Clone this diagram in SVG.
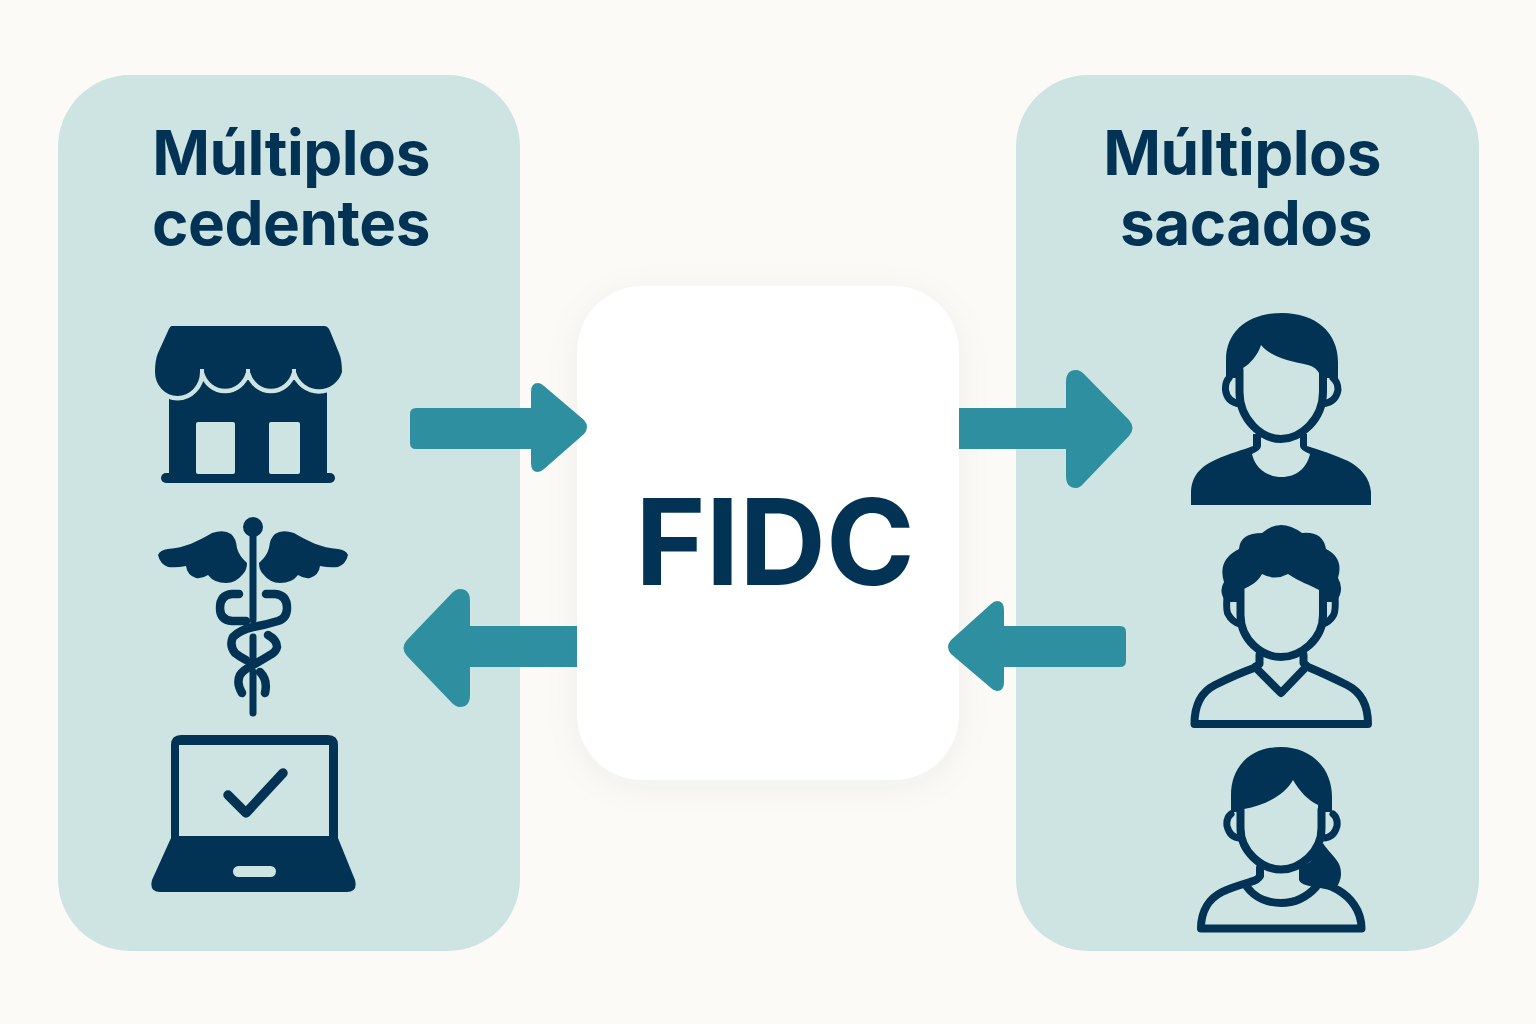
<svg xmlns="http://www.w3.org/2000/svg" width="1536" height="1024" viewBox="0 0 1536 1024">
<defs>
<filter id="sh" x="-20%" y="-20%" width="140%" height="140%"><feDropShadow dx="0" dy="6" stdDeviation="16" flood-color="#30404a" flood-opacity="0.05"/></filter>
<path id="wing" d="M158 555Q160 550 168 549C185 548 198 541 212 533Q224 529 231 534Q236 538 237 548Q239 556 247 563Q247 570 243 574Q236 583 226 583Q214 583 208 575Q202 579 196 578Q187 575 186 566Q176 568 168 567Q160 564 158 555Z"/>
</defs>
<style>
.panel{fill:#cde4e2}
.ink{fill:#023354}
.ln{fill:none;stroke:#023354;stroke-width:8;stroke-linecap:round;stroke-linejoin:round}
.ear{stroke-width:7}
.t{font-family:"Inter","Liberation Sans",sans-serif;font-weight:700;font-size:62px;letter-spacing:-0.5px;fill:#023354;text-anchor:middle}
.arr{fill:#2e8fa0}
</style>
<rect width="1536" height="1024" fill="#fbfaf6"/>
<g id="cedentes">
<rect class="panel" x="58" y="75" width="462" height="876" rx="72"/>
<text class="t" x="291" y="175">Múltiplos</text>
<text class="t" x="291" y="245">cedentes</text>
<g id="loja">
<rect class="ink" x="169" y="380" width="158" height="95"/>
<rect class="ink" x="161" y="473" width="174" height="10" rx="5"/>
<rect class="panel" x="196" y="422" width="39" height="52" rx="2"/>
<rect class="panel" x="269" y="422" width="31" height="52" rx="2"/>
<path id="awn" class="ink" stroke="#cde4e2" stroke-width="9" paint-order="stroke" d="M172 326H324Q328 326 330 331L339 353Q342 360 342 372A24 24 0 0 1 296 372V369H292V372A22 24 0 0 1 250 372V369H246V372A22 24 0 0 1 204 372V369H200V372A22.500 24 0 0 1 155 372Q155 360 158 353L168 331Q170 326 172 326Z"/>
</g>
<g id="caduceu">
<circle class="ink" cx="253" cy="527" r="10"/>
<path d="M253 530V620M253 637V662M253 672V713" class="ln" style="stroke-width:7"/>
<use href="#wing" class="ink"/>
<use href="#wing" class="ink" transform="translate(506 0) scale(-1 1)"/>
<path class="ln" style="stroke-width:8.500" d="M239 594H232Q220 595 220 608Q220 620 232 621H246M266 594H275Q287 595 287 608Q287 618 278 621Q265 625 253 627Q240 630 233 637Q229 645 235 653Q240 657 246 660M268 635Q277 640 277 647Q276 652 270 655Q262 660 253 665Q243 670 240 675Q236 683 242 693M260 672Q268 680 265 693"/>
</g>
<g id="laptop">
<path class="ink" fill-rule="evenodd" d="M181 735H328Q338 735 338 745V840H171V745Q171 735 181 735ZM179 745V836H329V745Z"/>
<path class="ink" d="M171 838H338L355 880Q358 892 347 892H160Q149 892 152 880Z"/>
<rect class="panel" x="233" y="866" width="43" height="11" rx="5.500"/>
<path class="ln" style="stroke-width:9.500" d="M228 795L246 813L283 773"/>
</g>
</g>
<g id="sacados">
<rect class="panel" x="1016" y="75" width="463" height="876" rx="72"/>
<text class="t" x="1242" y="175">Múltiplos</text>
<text class="t" x="1246" y="245">sacados</text>
<g id="pessoa1">
<path class="ink" d="M1191 505V492C1192 472 1205 465 1215 460C1230 453 1243 450 1253 446V434H1261V446Q1261 450 1252 454C1255 468 1267 477 1282 477C1296 477 1307 468 1310 454Q1300 450 1300 446V434H1307V446C1320 450 1335 455 1348 461C1360 467 1370 478 1371 492V505Z"/>
<path class="ln" d="M1239.500 370V392C1239.500 420 1262 439 1281 439C1300 439 1323 420 1323 392V370"/>
<path class="ln ear" d="M1229 378Q1225 382 1225.500 390Q1227 402 1240 404M1333 378Q1338 382 1338 390Q1336 402 1323 404"/>
<path class="ink" d="M1226 378V360C1226 330 1250 313 1282 313C1315 313 1338 332 1338 362V378H1319V373C1316 368 1312 366 1308 365C1290 361 1272 358 1261 345C1258 355 1250 364 1243 368V378Z"/>
</g>
<g id="pessoa2">
<path class="ln" d="M1259.500 655V664L1254 668C1240 673 1225 680 1215 685C1203 691 1194.500 703 1194.500 724H1368C1368 703 1359 691 1347 685C1335 679 1320 672 1308 667L1303.500 663V655"/>
<path class="ln" d="M1255 667L1281 693L1306 667"/>
<path class="ln" d="M1240.500 590V615C1240.500 640 1262 657 1281 657C1300 657 1323 640 1323 615V590"/>
<path class="ln ear" d="M1227 597Q1226 610 1228 614Q1232 622 1240 624M1335 597Q1336 612 1333 616Q1329 622 1323 624"/>
<path class="ink" d="M1226 602Q1218 592 1224 582Q1217 560 1239 549Q1240 533 1262 533Q1280 517 1302 533Q1323 531 1326 549Q1344 558 1338 578Q1345 590 1336 602H1319V590C1310 585 1300 582 1288 574Q1275 581 1262 574C1258 582 1250 586 1244 589V602Z"/>
</g>
<g id="pessoa3">
<path class="ln" d="M1260 868V876Q1258 880 1250 882C1240 885 1230 888 1222 892C1210 898 1201 910 1201 928.500H1361.500C1361.500 910 1350 897 1338 890L1330 886"/>
<path class="ln" d="M1247 887C1255 898 1268 903 1281 903C1293 903 1306 898 1316 887"/>
<path class="ln" d="M1240.500 810V828C1240.500 852 1262 869.500 1281 869.500C1300 869.500 1321.500 852 1321.500 828V810"/>
<path class="ln ear" d="M1231 814Q1226 818 1227 826Q1230 838 1240 838M1333 814Q1338 818 1337 826Q1334 838 1323 838"/>
<path class="ink" d="M1323 843C1330 855 1342 860 1341 875C1340 885 1335 890 1330 890L1315 887Q1300 885 1299 880V868L1310 862Z"/>
<path class="ink" d="M1231 812V795C1231 765 1252 747 1281 747C1310 747 1332 767 1332 797V812H1318V805C1308 800 1300 792 1293 780C1285 795 1265 805 1244 809V812Z"/>
</g>
</g>
<g id="fidc">
<rect x="577" y="286" width="382" height="494" rx="66" fill="#ffffff" filter="url(#sh)"/>
<text x="775" y="585" font-family="Inter,'Liberation Sans',sans-serif" font-weight="700" font-size="120" fill="#023354" text-anchor="middle">FIDC</text>
</g>
<g id="connectors">
<path class="arr" d="M416 408H531V392Q531 383 538 383Q541 383 544 386L584 420Q590 427 584 434L544 469Q541 472 538 472Q531 472 531 463V449H416Q410 449 410 443V414Q410 408 416 408Z"/>
<path class="arr" d="M959 408H1066V382Q1066 370 1076 370Q1080 370 1084 374L1129 420Q1136 428 1129 436L1084 483Q1080 488 1076 488Q1066 488 1066 476V449H959Z"/>
<path class="arr" d="M577 626H470V601Q470 589 460 589Q456 589 452 593L407 640Q400 648 407 656L452 703Q456 707 460 707Q470 707 470 695V667H577Z"/>
<path class="arr" d="M1120 626H1004V610Q1004 601 997 601Q994 601 991 604L951 640Q945 647 951 654L991 688Q994 691 997 691Q1004 691 1004 682V667H1120Q1126 667 1126 661V632Q1126 626 1120 626Z"/>
</g>
</svg>
